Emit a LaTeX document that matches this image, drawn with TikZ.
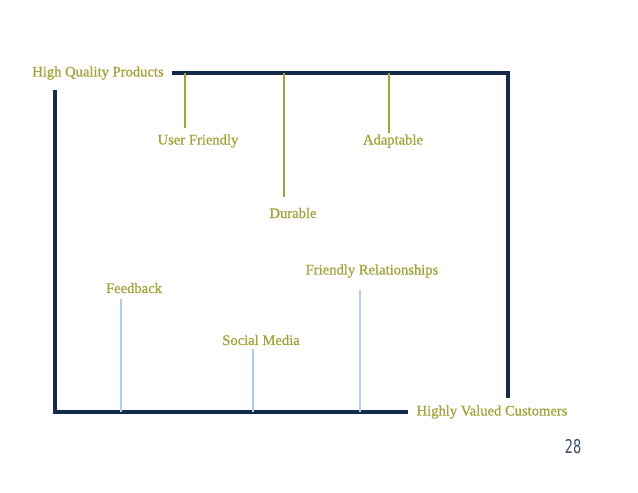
\documentclass[tikz,border=0pt]{standalone}
\usepackage{fontspec}
\setmainfont{Liberation Serif}
\newfontfamily\lblfont{Liberation Serif}[FakeBold=0.9]
\newfontfamily\pagenumfont{DejaVu Sans}[FakeStretch=0.68]
\usepackage{tikz}
\usetikzlibrary{positioning}
\definecolor{deepnavy}{HTML}{152A4A}
\definecolor{leafolive}{HTML}{A3A33C}
\definecolor{paleblue}{HTML}{B3CBE3}
\definecolor{numgray}{HTML}{3E4C63}

\begin{document}
\begin{tikzpicture}[
  x=1pt,y=-1pt,
  lbl/.style={text=leafolive,font=\lblfont\fontsize{14.6}{16}\selectfont,inner sep=1pt},
  frame/.style={draw=deepnavy,line width=4pt},
  prodline/.style={draw=leafolive,line width=2.4pt},
  custline/.style={draw=paleblue,line width=2pt}
]
  \useasboundingbox (0,0) rectangle (638,493);

  % the two end points
  \node[lbl] (hqp) at (98,73) {High Quality Products};
  \node[lbl] (hvc) at (492,412) {Highly Valued Customers};

  % frame
  \coordinate (topleft) at (172,73);
  \coordinate (topright) at (508,73);
  \coordinate (rightend) at (508,398);
  \coordinate (leftstart) at (55,90);
  \coordinate (botleft) at (55,412);
  \coordinate (botright) at (408,412);
  \draw[frame] (topleft) -- (topright) -- (rightend);
  \draw[frame] (leftstart) -- (botleft) -- (botright);

  % product qualities
  \node[lbl] (userfr) at (198,141) {User Friendly};
  \node[lbl] (durable) at (293,213) {Durable};
  \node[lbl] (adapt) at (393,141) {Adaptable};
  \foreach \n/\x/\y in {userfr/185/128,durable/284/197,adapt/389/133}
    \draw[prodline] (topleft -| \x,0) -- (\x,\y);

  % customer relations
  \node[lbl] (feedback) at (134,288) {Feedback};
  \node[lbl] (social) at (261,340) {Social Media};
  \node[lbl] (friendly) at (372,271) {Friendly Relationships};
  \foreach \n/\x/\y in {feedback/121/299,social/253/349,friendly/360/290}
    \draw[custline] (\x,\y) -- (botleft -| \x,0);

  \node[text=numgray,font=\pagenumfont\fontsize{19}{21}\selectfont] (pagenum) at (573,447) {28};
\end{tikzpicture}
\end{document}
